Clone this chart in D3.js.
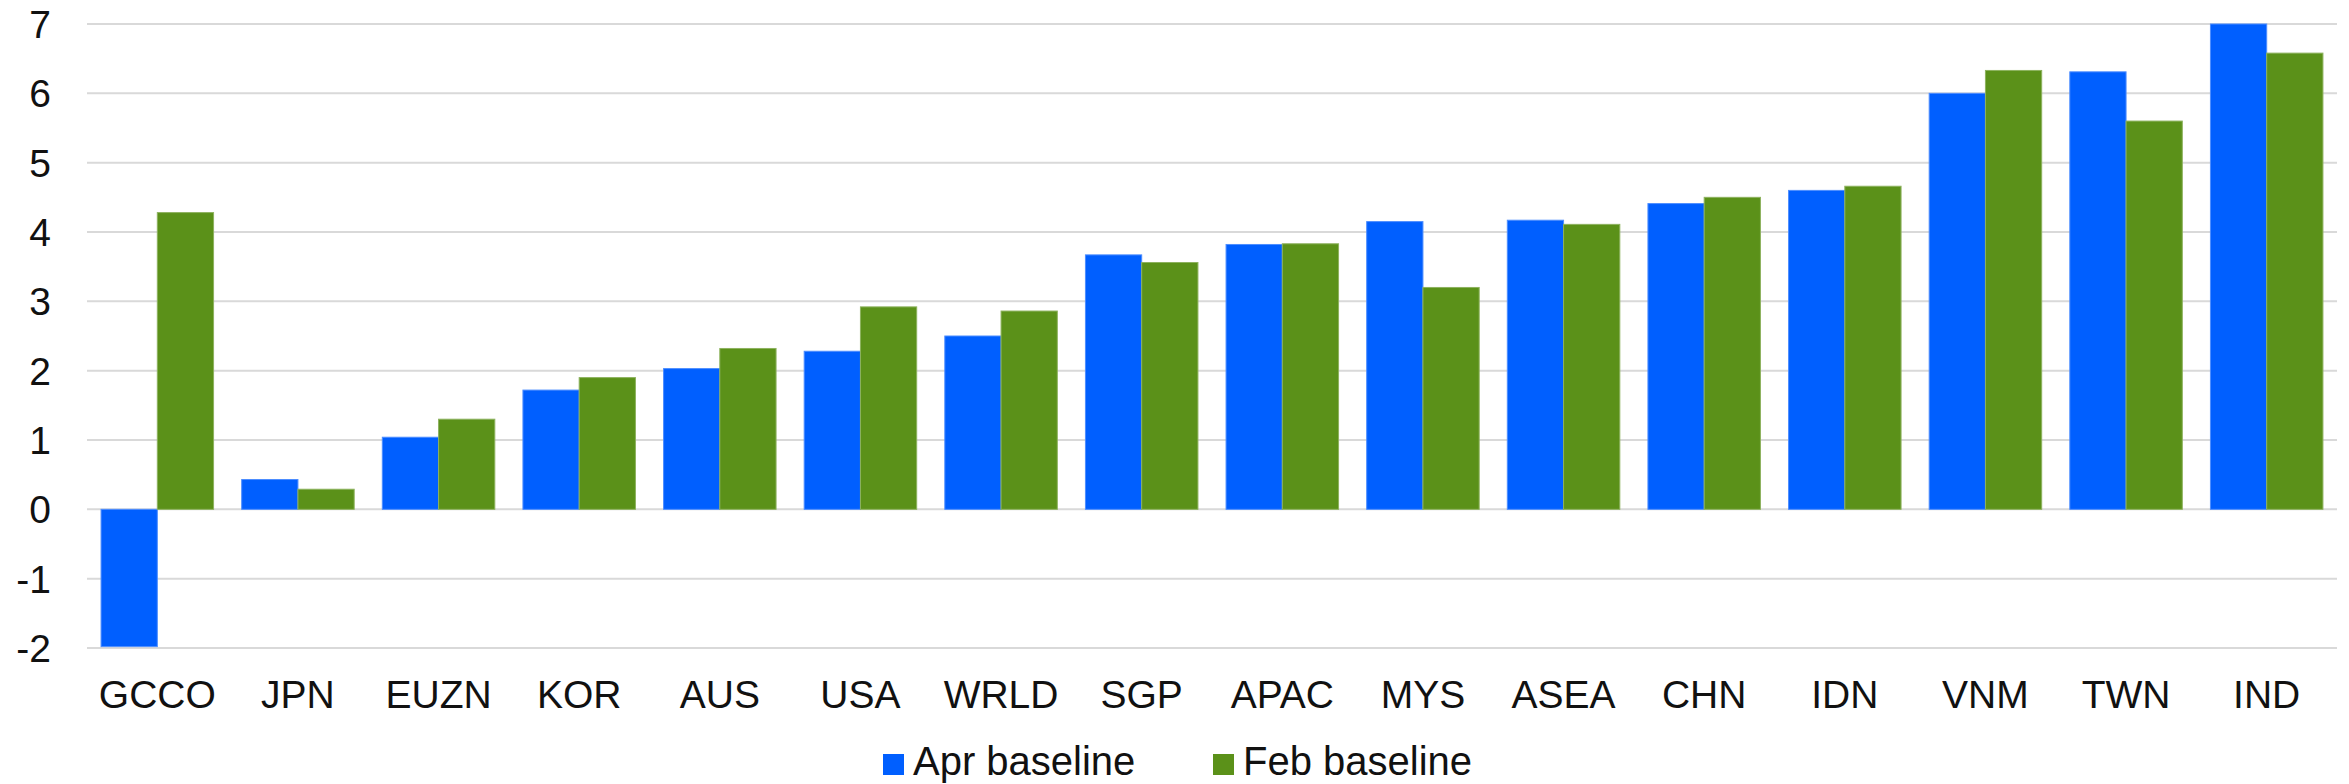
<!DOCTYPE html>
<html>
<head>
<meta charset="utf-8">
<script src="https://cdn.jsdelivr.net/npm/d3@7"></script>
<style>
  html, body { margin: 0; padding: 0; background: #fff; }
  svg { display: block; }
  text { font-family: "Liberation Sans", Arial, sans-serif; fill: #111; }
</style>
</head>
<body>
<svg id="chart" width="2349" height="784"></svg>
<script>
const categories = ["GCCO","JPN","EUZN","KOR","AUS","USA","WRLD","SGP","APAC","MYS","ASEA","CHN","IDN","VNM","TWN","IND"];
const aprBaseline = [-1.98, 0.43, 1.04, 1.72, 2.03, 2.28, 2.50, 3.67, 3.82, 4.15, 4.17, 4.41, 4.60, 6.00, 6.31, 7.00];
const febBaseline = [4.28, 0.29, 1.30, 1.90, 2.32, 2.92, 2.86, 3.56, 3.83, 3.20, 4.11, 4.50, 4.66, 6.33, 5.60, 6.58];
const seriesNames = ["Apr baseline", "Feb baseline"];
const seriesColors = ["#005FFF", "#5B9119"];
const seriesStrokes = ["#4d8dff", "#8db25e"];
const yTicks = [-2, -1, 0, 1, 2, 3, 4, 5, 6, 7];

(function () {
const svg = d3.select("#chart");
const plotLeft = 87, plotRight = 2337, plotTop = 24, plotBottom = 648;

const x = d3.scaleBand().domain(categories).range([plotLeft, plotRight]).paddingInner(0.2).paddingOuter(0.1);
const xs = d3.scaleBand().domain(seriesNames).range([0, x.bandwidth()]).padding(0);
const y = d3.scaleLinear().domain([-2, 7]).range([plotBottom, plotTop]);

// gridlines
svg.append("g").selectAll("line").data(yTicks).join("line")
  .attr("x1", plotLeft).attr("x2", plotRight)
  .attr("y1", d => y(d)).attr("y2", d => y(d))
  .attr("stroke", "#d9d9d9").attr("stroke-width", 2);

// y axis labels
const yAxis = d3.axisLeft(y).tickValues(yTicks).tickSize(0).tickPadding(0).tickFormat(d => String(d));
const yg = svg.append("g").attr("transform", "translate(51,0)").call(yAxis);
yg.select(".domain").remove();
yg.selectAll("text").attr("font-size", 39).attr("font-family", "Liberation Sans, Arial, sans-serif").attr("fill", "#111").attr("dy", "0.35em");

// bars
const data = categories.map((c, i) => ({ cat: c, vals: [aprBaseline[i], febBaseline[i]] }));
const groups = svg.append("g").selectAll("g").data(data).join("g")
  .attr("transform", d => `translate(${x(d.cat)},0)`);
groups.selectAll("rect").data(d => d.vals.map((v, j) => ({ v, j }))).join("rect")
  .attr("x", d => xs(seriesNames[d.j]))
  .attr("width", xs.bandwidth())
  .attr("y", d => y(Math.max(0, d.v)))
  .attr("height", d => Math.abs(y(d.v) - y(0)))
  .attr("fill", d => seriesColors[d.j])
  .attr("stroke", d => seriesStrokes[d.j])
  .attr("stroke-width", 1);

// x axis labels
const xAxis = d3.axisBottom(x).tickSize(0).tickPadding(0);
const xg = svg.append("g").attr("transform", "translate(0,708)").call(xAxis);
xg.select(".domain").remove();
xg.selectAll("text").attr("font-size", 39).attr("font-family", "Liberation Sans, Arial, sans-serif").attr("fill", "#111").attr("dy", 0);

// legend
const legendX = [883, 1213];
const leg = svg.append("g").selectAll("g").data(seriesNames).join("g")
  .attr("transform", (d, i) => `translate(${legendX[i]},754)`);
leg.append("rect").attr("width", 21).attr("height", 21).attr("fill", (d, i) => seriesColors[i]);
leg.append("text").attr("x", 30).attr("y", 21).attr("font-size", 40).text(d => d);
})();
</script>
</body>
</html>
